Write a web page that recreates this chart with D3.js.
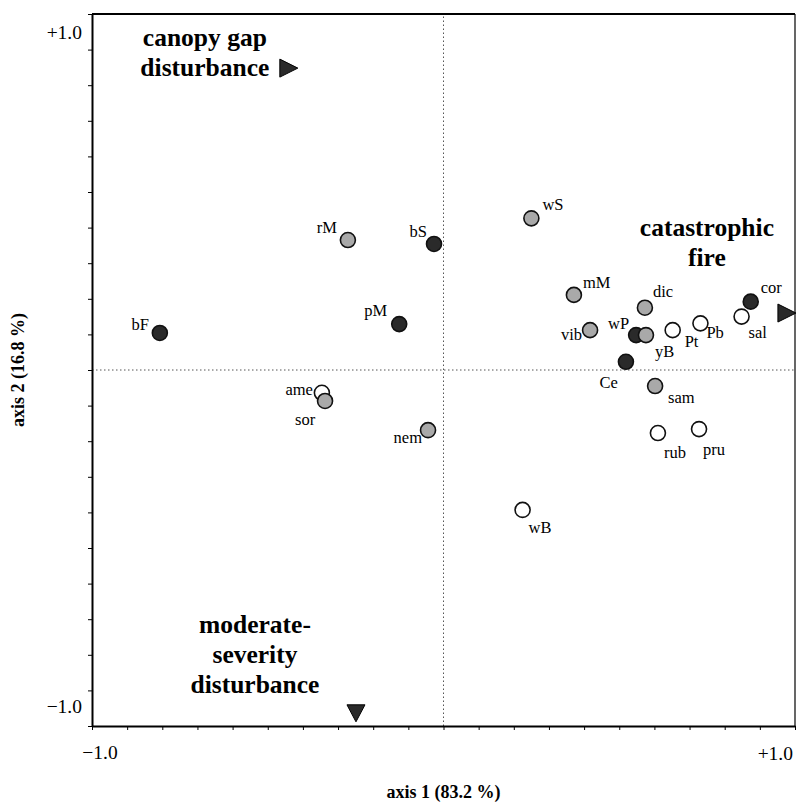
<!DOCTYPE html>
<html>
<head>
<meta charset="utf-8">
<script src="https://cdn.jsdelivr.net/npm/d3@7"></script>
<style>
  body { margin: 0; background: #fff; }
  text { font-family: "Liberation Serif", "Times New Roman", serif; }
</style>
</head>
<body>
<div class="chart"></div>
<script>
// species scores on the two ordination axes
var species = ["bF", "rM", "bS", "pM", "ame", "sor", "nem", "wS", "mM", "dic", "vib",
    "wP", "yB", "Pt", "Pb", "sal", "cor", "Ce", "sam", "rub", "pru", "wB"]
var axis1 = [-0.807, -0.272, -0.027, -0.126, -0.346, -0.337, -0.044, 0.250, 0.371, 0.573, 0.417,
    0.548, 0.576, 0.652, 0.731, 0.848, 0.874, 0.519, 0.602, 0.610, 0.727, 0.225]
var axis2 = [0.104, 0.365, 0.354, 0.129, -0.064, -0.087, -0.169, 0.426, 0.211, 0.175, 0.112,
    0.098, 0.098, 0.112, 0.131, 0.150, 0.192, 0.023, -0.045, -0.177, -0.166, -0.393]
// 0 = dark, 1 = grey, 2 = open symbol
var group = [0, 1, 0, 0, 2, 1, 1, 1, 1, 1, 1,
    0, 1, 2, 2, 2, 0, 0, 1, 2, 2, 2]

// disturbance vectors (arrow tips)
var vectorNames = [["canopy gap", "disturbance"], ["catastrophic", "fire"], ["moderate-", "severity", "disturbance"]]
var vectorX = [-0.44, 0.977, -0.249]
var vectorY = [0.848, 0.16, -0.963]

var tickValues = d3.range(-10, 11).map(d => d / 10)
var tickLabels = ["\u22121.0", "+1.0"]
var axisTitles = ["axis 1 (83.2 %)", "axis 2 (16.8 %)"]

// label placement for each species: [dx, dy, anchor]
var labelPos = {
    bF: [-11, -3, "end"], rM: [-11, -7, "end"], bS: [-7, -7, "end"], pM: [-12, -8, "end"],
    ame: [-9, 2, "end"], sor: [-20, 24, "middle"], nem: [-6, 13, "end"],
    wS: [11, -8, "start"], mM: [9, -7, "start"], dic: [8, -11, "start"], vib: [-8, 10, "end"],
    wP: [-7, -6, "end"], yB: [9, 22, "start"], Pt: [12, 17, "start"], Pb: [6, 15, "start"],
    sal: [7, 21, "start"], cor: [10, -9, "start"], Ce: [-8, 26, "end"], sam: [13, 17, "start"],
    rub: [6, 25, "start"], pru: [4, 26, "start"], wB: [6, 23, "start"]
}

var fills = ["#2a2a2a", "#a9a9a9", "#ffffff"]

var margin = { top: 14, right: 2, bottom: 79, left: 92 },
    width = 797, height = 805

var svg = d3.select(".chart").append("svg")
    .attr("width", width)
    .attr("height", height)

var x = d3.scaleLinear().domain([-1, 1]).range([margin.left, width - margin.right])
var y = d3.scaleLinear().domain([-1, 1]).range([height - margin.bottom, margin.top])

// zero lines
svg.append("line")
    .attr("x1", x(-1)).attr("x2", x(1)).attr("y1", y(0)).attr("y2", y(0))
    .attr("stroke", "#555").attr("stroke-dasharray", "1.5,2.5")
svg.append("line")
    .attr("x1", x(0)).attr("x2", x(0)).attr("y1", y(-1)).attr("y2", y(1))
    .attr("stroke", "#555").attr("stroke-dasharray", "1.5,2.5")

// frame
svg.append("line")
    .attr("x1", x(-1)).attr("x2", x(1)).attr("y1", y(1)).attr("y2", y(1))
    .attr("stroke", "#000").attr("stroke-width", 2)
svg.append("line")
    .attr("x1", x(1)).attr("x2", x(1)).attr("y1", y(-1)).attr("y2", y(1))
    .attr("stroke", "#000").attr("stroke-width", 1.2)

var xAxis = svg.append("g")
    .attr("transform", `translate(0,${y(-1)})`)
    .call(d3.axisBottom(x).tickValues(tickValues).tickFormat("").tickSize(4).tickSizeOuter(0))
var yAxis = svg.append("g")
    .attr("transform", `translate(${x(-1)},0)`)
    .call(d3.axisLeft(y).tickValues(tickValues).tickFormat("").tickSize(4).tickSizeOuter(0))
svg.selectAll(".domain").attr("stroke-width", 2)

// end labels
yAxis.append("text").attr("x", -10).attr("y", y(1) + 25)
    .attr("text-anchor", "end").attr("font-size", 19.5).attr("fill", "#000").text(tickLabels[1])
yAxis.append("text").attr("x", -10).attr("y", y(-1) - 13)
    .attr("text-anchor", "end").attr("font-size", 19.5).attr("fill", "#000").text(tickLabels[0])
xAxis.append("text").attr("x", x(-1) + 8).attr("y", 33)
    .attr("text-anchor", "middle").attr("font-size", 19.5).attr("fill", "#000").text(tickLabels[0])
xAxis.append("text").attr("x", x(1) - 2).attr("y", 34)
    .attr("text-anchor", "end").attr("font-size", 19.5).attr("fill", "#000").text(tickLabels[1])

svg.append("text")
    .attr("x", x(0)).attr("y", 798)
    .attr("text-anchor", "middle").attr("font-size", 18).attr("font-weight", "bold")
    .text(axisTitles[0])
svg.append("text")
    .attr("transform", `translate(24,${y(0)}) rotate(-90)`)
    .attr("text-anchor", "middle").attr("font-size", 18).attr("font-weight", "bold")
    .text(axisTitles[1])

// vectors: triangles pointing outward
var triRight = "M-9,-9L9,0L-9,9Z", triDown = "M-9,-8L9,-8L0,9Z"
var vecShape = [triRight, triRight, triDown]
svg.selectAll(".vec")
    .data(vectorX)
    .enter().append("path")
    .attr("class", "vec")
    .attr("transform", (d, i) => `translate(${x(d)},${y(vectorY[i])})`)
    .attr("d", (d, i) => vecShape[i])
    .attr("fill", "#2a2a2a").attr("stroke", "#000")

// vector annotation text
var vecText = [[-84, -22], [-80, -77], [-101, -80]]
vectorNames.forEach(function (lines, i) {
    var t = svg.append("text")
        .attr("font-size", 25.5).attr("font-weight", "bold")
        .attr("text-anchor", "middle")
    lines.forEach(function (l, j) {
        t.append("tspan")
            .attr("x", x(vectorX[i]) + vecText[i][0])
            .attr("y", y(vectorY[i]) + vecText[i][1] + j * 30)
            .text(l)
    })
})

// species points
var pts = svg.selectAll(".sp")
    .data(species)
    .enter().append("g")
    .attr("class", "sp")
    .attr("transform", (d, i) => `translate(${x(axis1[i])},${y(axis2[i])})`)

pts.append("circle")
    .attr("r", 7.5)
    .attr("fill", (d, i) => fills[group[i]])
    .attr("stroke", "#111")
    .attr("stroke-width", 1.6)

pts.append("text")
    .attr("x", d => labelPos[d][0])
    .attr("y", d => labelPos[d][1])
    .attr("text-anchor", d => labelPos[d][2])
    .attr("font-size", 16.5)
    .text(d => d)
</script>
</body>
</html>
